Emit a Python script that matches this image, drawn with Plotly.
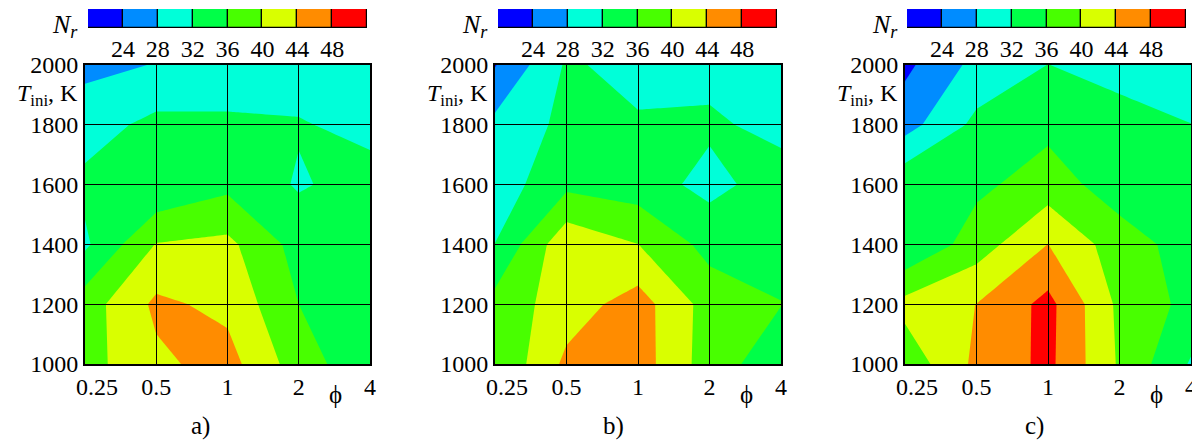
import plotly.graph_objects as go

# ---------------- data ----------------
phi = [0.25, 0.5, 1, 2, 4]
phi_labels = ["\u20030.25", "0.5", "1", "2", "4"]
T_ini = [1000, 1200, 1400, 1600, 1800, 2000]
T_labels = ["1000", "1200", "1400", "1600", "1800", "2000"]

# N_r values, rows = T_ini (1000..2000), columns = phi (0.25..4)
Nr_a = [
    [38.5, 43.2, 45.5, 38.0, 33.0],
    [38.0, 44.8, 43.0, 36.0, 34.5],
    [31.3, 40.2, 41.0, 34.5, 34.0],
    [33.0, 32.3, 35.0, 31.6, 33.5],
    [30.2, 33.1, 32.85, 32.3, 30.9],
    [27.0, 28.15, 29.0, 30.0, 29.5],
]
Nr_b = [
    [36.2, 44.9, 46.0, 38.0, 33.5],
    [37.4, 42.05, 45.8, 38.3, 36.1],
    [32.05, 43.0, 40.05, 34.7, 34.5],
    [29.8, 35.0, 33.9, 30.8, 33.9],
    [29.05, 33.0, 32.4, 32.65, 30.8],
    [23.8, 32.5, 30.8, 30.7, 30.0],
]
Nr_c = [
    [37.3, 44.9, 49.0, 39.5, 31.6],
    [41.3, 44.05, 49.2, 39.1, 34.8],
    [32.05, 38.0, 44.05, 37.9, 34.3],
    [35.1, 35.1, 37.9, 34.0, 34.0],
    [26.4, 33.0, 34.98, 33.6, 32.05],
    [23.1, 29.2, 32.05, 30.5, 30.0],
]
panels = [Nr_a, Nr_b, Nr_c]
panel_names = ["a)", "b)", "c)"]

levels = [20, 24, 28, 32, 36, 40, 44, 48, 52]
level_ticks = [24, 28, 32, 36, 40, 44, 48]
level_colors = ["#0000FF", "#008CFF", "#00FFD9", "#00FF48",
                "#48FF00", "#D9FF00", "#FF8C00", "#FF0000"]

# ---------------- layout geometry (window pixels) ----------------
PAGE_OFF = 8              # default body margin of the html page
W, H = 1200 - PAGE_OFF, 448 - PAGE_OFF
FONT = "Liberation Serif"
FS = 24

plot_x = [(85, 370), (495, 781), (905, 1191)]
plot_y = (65, 364)
cbar_x = [(88, 367), (498, 777), (907, 1186)]
cbar_y = (9, 28)
label_x = [200, 613, 1034]


def fx(p):
    return (p - PAGE_OFF) / W


def fy(p):
    return 1 - (p - PAGE_OFF) / H


nb = len(level_colors)
cscale = []
for i, c in enumerate(level_colors):
    cscale.append([i / nb, c])
    cscale.append([(i + 1) / nb, c])

fig = go.Figure()
annotations = []
layout_axes = {}

for k, (z, name) in enumerate(zip(panels, panel_names)):
    xa = "x" if k == 0 else f"x{k + 1}"
    ya = "y" if k == 0 else f"y{k + 1}"
    fig.add_trace(go.Contour(
        x=phi, y=T_ini, z=z,
        xaxis=xa, yaxis=ya,
        zmin=levels[0], zmax=levels[-1],
        colorscale=cscale, showscale=False,
        contours=dict(start=levels[0], end=levels[-1],
                      size=levels[1] - levels[0], coloring="fill",
                      showlines=False),
        line=dict(width=0, smoothing=0),
        hoverinfo="skip",
    ))
    x0, x1 = plot_x[k]
    pw = x1 - x0
    ph = plot_y[1] - plot_y[0]
    key_x = "xaxis" if k == 0 else f"xaxis{k + 1}"
    key_y = "yaxis" if k == 0 else f"yaxis{k + 1}"
    layout_axes[key_x] = dict(
        domain=[fx(x0), fx(x1)], anchor=ya, type="log",
        range=[-0.60206, 0.60206], automargin=False,
        tickvals=phi, ticktext=phi_labels,
        ticks="inside", ticklen=ph, tickwidth=1.3, tickcolor="black",
        showgrid=False, zeroline=False,
        showline=True, linecolor="black", linewidth=2, mirror=True,
        layer="above traces",
        tickfont=dict(family=FONT, size=FS, color="black"),
        ticklabelstandoff=0,
    )
    layout_axes[key_y] = dict(
        domain=[fy(plot_y[1]), fy(plot_y[0])], anchor=xa,
        range=[1000, 2000], automargin=False,
        tickvals=T_ini, ticktext=T_labels,
        ticks="inside", ticklen=pw, tickwidth=1.3, tickcolor="black",
        showgrid=False, zeroline=False,
        showline=True, linecolor="black", linewidth=2, mirror=True,
        layer="above traces",
        tickfont=dict(family=FONT, size=FS, color="black"),
    )

    # colour key (bars built from the level arrays)
    cxa = f"x{k + 4}"
    cya = f"y{k + 4}"
    mids = [(levels[i] + levels[i + 1]) / 2 for i in range(nb)]
    fig.add_trace(go.Bar(
        x=mids, y=[1] * nb, width=[levels[1] - levels[0]] * nb,
        marker=dict(color=level_colors, line=dict(color="black", width=1.2)),
        xaxis=cxa, yaxis=cya, showlegend=False, hoverinfo="skip",
    ))
    c0, c1 = cbar_x[k]
    layout_axes[f"xaxis{k + 4}"] = dict(
        domain=[fx(c0), fx(c1)], anchor=cya,
        range=[levels[0], levels[-1]], automargin=False,
        tickvals=level_ticks, ticktext=[str(v) for v in level_ticks],
        ticks="", showgrid=False, zeroline=False, showline=False,
        tickfont=dict(family=FONT, size=FS, color="black"),
        ticklabelstandoff=4,
    )
    layout_axes[f"yaxis{k + 4}"] = dict(
        domain=[fy(cbar_y[1]), fy(cbar_y[0])], anchor=cxa,
        range=[0, 1], visible=False, automargin=False,
    )

    # text labels
    annotations.append(dict(
        text="<i>N<sub>r</sub></i>", x=fx(x0 - 5), y=fy(26),
        xref="paper", yref="paper", xanchor="right", yanchor="middle",
        showarrow=False, font=dict(family=FONT, size=FS + 2, color="black")))
    annotations.append(dict(
        text="<i>T</i><sub>ini</sub>, K", x=fx(x0 - 5), y=fy(95),
        xref="paper", yref="paper", xanchor="right", yanchor="middle",
        showarrow=False, font=dict(family=FONT, size=FS, color="black")))
    annotations.append(dict(
        text="\u03d5", x=fx(x1 - 35), y=fy(394),
        xref="paper", yref="paper", xanchor="center", yanchor="middle",
        showarrow=False, font=dict(family=FONT, size=FS + 1, color="black")))
    annotations.append(dict(
        text=name, x=fx(label_x[k]), y=fy(426),
        xref="paper", yref="paper", xanchor="center", yanchor="middle",
        showarrow=False, font=dict(family=FONT, size=FS + 1, color="black")))

fig.update_layout(
    template="none",
    width=W, height=H,
    margin=dict(l=0, r=0, t=0, b=0, autoexpand=False),
    paper_bgcolor="white", plot_bgcolor="white",
    showlegend=False, bargap=0,
    annotations=annotations,
    **layout_axes,
)

fig.write_html("out.html")
